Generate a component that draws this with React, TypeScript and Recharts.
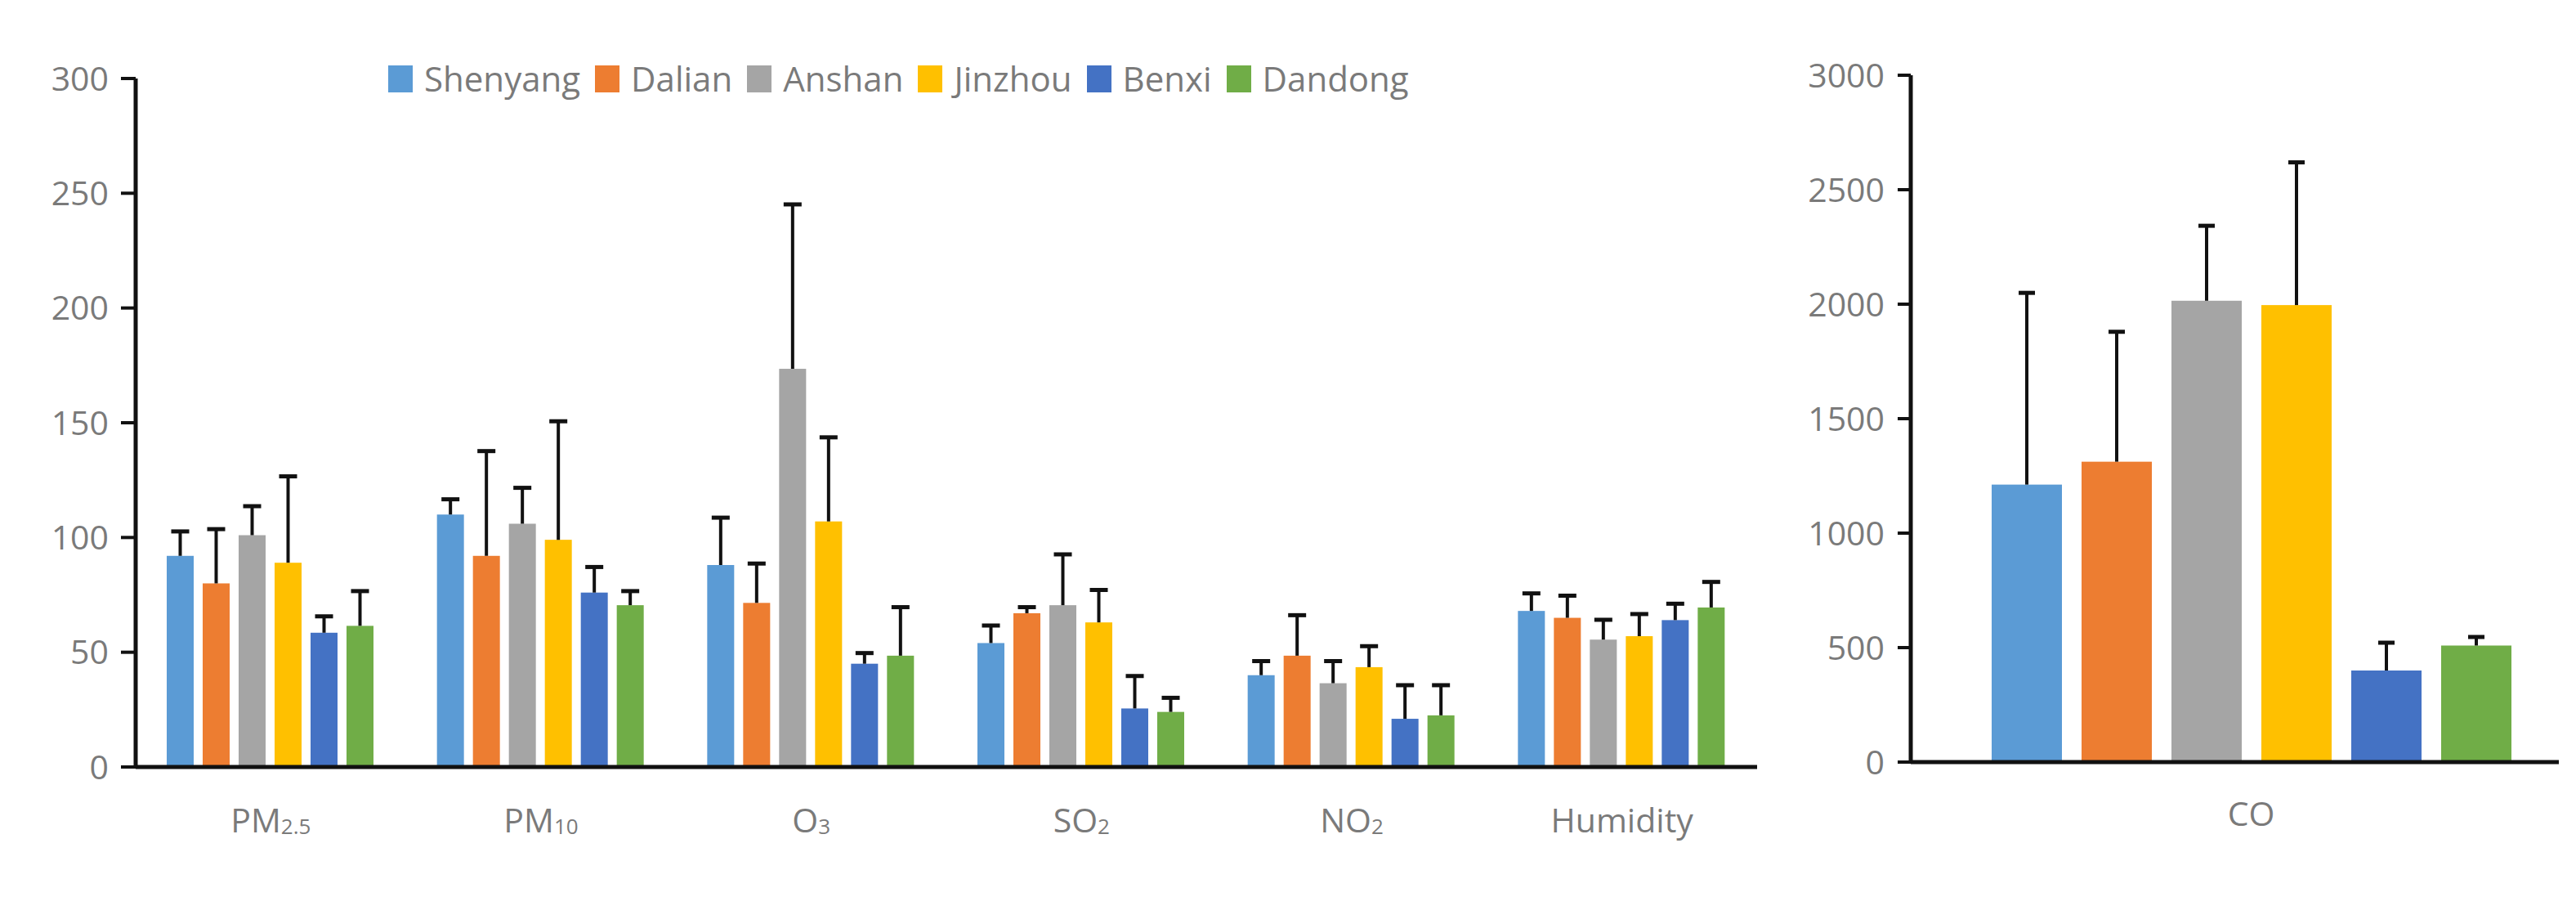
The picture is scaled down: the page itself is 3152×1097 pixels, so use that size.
import React from 'react';
import { BarChart, Bar, XAxis, YAxis, Legend } from 'recharts';

const cities = ['Shenyang', 'Dalian', 'Anshan', 'Jinzhou', 'Benxi', 'Dandong'];
const cityColors = ['#5B9BD5', '#ED7D31', '#A5A5A5', '#FFC000', '#4472C4', '#70AD47'];

const categories = ['PM2.5', 'PM10', 'O3', 'SO2', 'NO2', 'Humidity'];
const tickMain = ['PM', 'PM', 'O', 'SO', 'NO', 'Humidity'];
const tickSub = ['2.5', '10', '3', '2', '2', ''];

// mean values per city, in category order
const shenyang = [92, 110, 88, 54, 40, 68];
const dalian = [80, 92, 71.5, 67, 48.5, 65];
const anshan = [101, 106, 173.5, 70.5, 36.5, 55.5];
const jinzhou = [89, 99, 107, 63, 43.5, 57];
const benxi = [58.5, 76, 45, 25.5, 21, 64];
const dandong = [61.5, 70.5, 48.5, 24, 22.5, 69.5];

// upper error bar length per city
const shenyangErr = [11, 7, 21, 8, 6.5, 8];
const dalianErr = [24, 46, 17.5, 3, 18, 10];
const anshanErr = [13, 16, 72, 22.5, 10, 9];
const jinzhouErr = [38, 52, 37, 14.5, 9.5, 10];
const benxiErr = [7.5, 11.5, 5, 14.5, 15, 7.5];
const dandongErr = [15.5, 6.5, 21.5, 6.5, 13.5, 11.5];

// CO panel
const coCategory = 'CO';
const coMeans = [1212, 1312, 2015, 1996, 400, 509];
const coErr = [841, 571, 331, 627, 125, 41];

const leftTicks = [0, 50, 100, 150, 200, 250, 300];
const rightTicks = [0, 500, 1000, 1500, 2000, 2500, 3000];

const means = [shenyang, dalian, anshan, jinzhou, benxi, dandong];
const errs = [shenyangErr, dalianErr, anshanErr, jinzhouErr, benxiErr, dandongErr];

const leftData = categories.map((c, i) => {
  const row: any = { name: c };
  cities.forEach((city, j) => {
    row[city] = means[j][i];
    row[city + 'Err'] = errs[j][i];
  });
  return row;
});

const rightRow: any = { name: coCategory };
cities.forEach((city, j) => {
  rightRow[city] = coMeans[j];
  rightRow[city + 'Err'] = coErr[j];
});
const rightData = [rightRow];

const FONT = "'Open Sans', sans-serif";
const TEXT = '#7a7a7a';
const INK = '#111';

// bar with a one-sided (upward) error bar
const makeShape = (key: string, capW: number) => (p: any) => {
  const { x, y, width, height, fill, payload } = p;
  const v = payload[key];
  const e = payload[key + 'Err'];
  const top = v > 0 ? y - (e * height) / v : y;
  const cx = x + width / 2;
  return (
    <g>
      <rect x={x} y={y} width={width} height={height} fill={fill} />
      <line x1={cx} x2={cx} y1={y} y2={top} stroke={INK} strokeWidth={4} />
      <line x1={cx - capW / 2} x2={cx + capW / 2} y1={top + 1} y2={top + 1} stroke={INK} strokeWidth={5} />
    </g>
  );
};

const CatTick = (props: any) => {
  const { x, y, payload } = props;
  const i = categories.indexOf(payload.value);
  const main = i >= 0 ? tickMain[i] : payload.value;
  const sub = i >= 0 ? tickSub[i] : '';
  return (
    <text x={x} y={y} textAnchor="middle" fill={TEXT} fontSize={41} fontFamily={FONT}>
      <tspan>{main}</tspan>
      {sub ? <tspan fontSize={26} dy={2}>{sub}</tspan> : null}
    </text>
  );
};

// legend in series order
const LegendRow = () => (
  <div style={{ display: 'flex', alignItems: 'center', fontFamily: FONT, fontSize: 42, lineHeight: '42px', color: TEXT, whiteSpace: 'nowrap' }}>
    {cities.map((city, j) => (
      <div key={city} style={{ display: 'flex', alignItems: 'center', marginRight: 18 }}>
        <span style={{ display: 'inline-block', width: 30, height: 33, background: cityColors[j], marginRight: 14 }} />
        <span>{city}</span>
      </div>
    ))}
  </div>
);

const axisLine = { stroke: INK, strokeWidth: 5 };
const tickLine = { stroke: INK, strokeWidth: 4 };
const yTick = { fill: TEXT, fontSize: 41, fontFamily: FONT };

export default function App() {
  return (
    <div style={{ position: 'absolute', left: 0, top: 0, width: 3152, height: 1097, background: '#fff', overflow: 'hidden' }}>
      <div style={{ position: 'absolute', left: 0, top: 0 }}>
        <BarChart
          width={2200}
          height={1097}
          data={leftData}
          margin={{ top: 96, right: 50, bottom: 59, left: 0 }}
          barCategoryGap={38}
          barGap={11}
        >
          <XAxis
            dataKey="name"
            height={100}
            axisLine={axisLine}
            tickLine={false}
            tickSize={0}
            tickMargin={80}
            tick={<CatTick />}
            interval={0}
          />
          <YAxis
            width={166}
            domain={[0, 300]}
            ticks={leftTicks}
            interval={0}
            axisLine={axisLine}
            tickLine={tickLine}
            tickSize={18}
            tickMargin={15}
            tick={yTick}
          />
          <Legend
            layout="horizontal"
            verticalAlign="middle"
            align="center"
            content={<LegendRow />}
            wrapperStyle={{ left: 475, top: 75, width: 1400 }}
          />
          {cities.map((city, j) => (
            <Bar
              key={city}
              dataKey={city}
              name={city}
              fill={cityColors[j]}
              isAnimationActive={false}
              shape={makeShape(city, 22)}
            />
          ))}
        </BarChart>
      </div>
      <div style={{ position: 'absolute', left: 2200, top: 0 }}>
        <BarChart
          width={952}
          height={1097}
          data={rightData}
          margin={{ top: 92, right: 21, bottom: 65, left: 0 }}
          barCategoryGap={59}
          barGap={24}
        >
          <XAxis
            dataKey="name"
            height={100}
            axisLine={axisLine}
            tickLine={false}
            tickSize={0}
            tickMargin={78}
            padding={{ left: 40, right: 0 }}
            tick={<CatTick />}
            interval={0}
          />
          <YAxis
            width={138}
            domain={[0, 3000]}
            ticks={rightTicks}
            interval={0}
            axisLine={axisLine}
            tickLine={tickLine}
            tickSize={16}
            tickMargin={16}
            tick={yTick}
          />
          {cities.map((city, j) => (
            <Bar
              key={city}
              dataKey={city}
              name={city}
              fill={cityColors[j]}
              isAnimationActive={false}
              shape={makeShape(city, 20)}
            />
          ))}
        </BarChart>
      </div>
    </div>
  );
}
